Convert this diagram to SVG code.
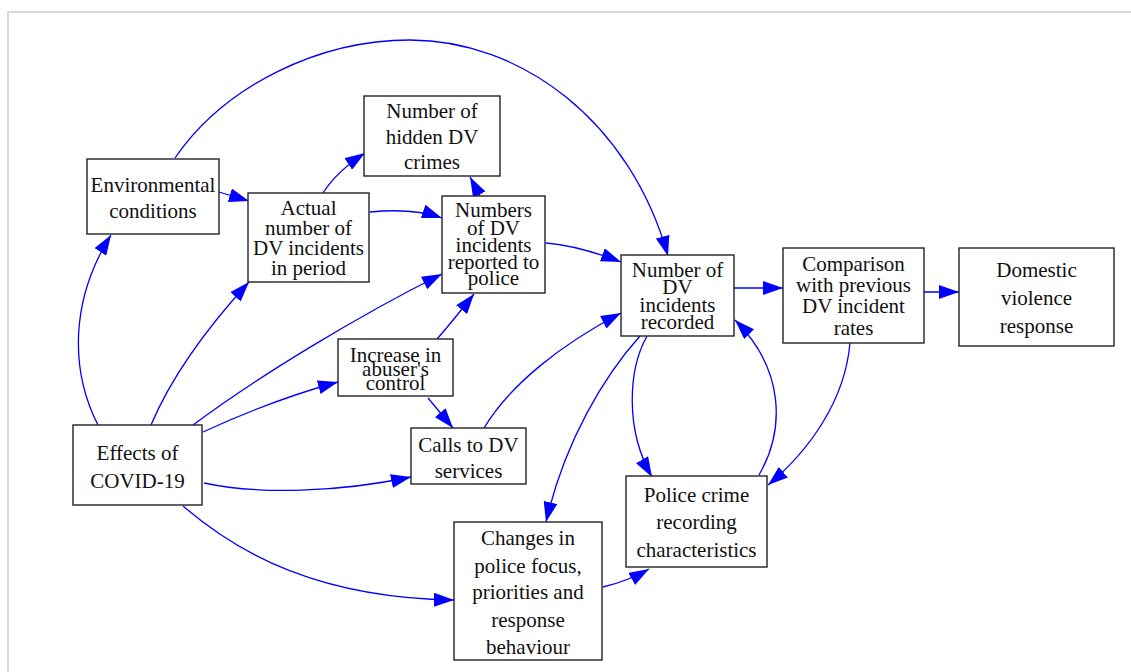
<svg xmlns="http://www.w3.org/2000/svg" width="1131" height="672" viewBox="0 0 1131 672">
<style>
.box{fill:#fff;stroke:#222;stroke-width:1.4}
.t{font-family:"Liberation Serif","DejaVu Serif",serif;font-size:21px;fill:#111;text-anchor:middle}
.e{fill:none;stroke:#0000ff;stroke-width:1.3;marker-end:url(#ah)}
</style>
<defs>
<marker id="ah" markerUnits="userSpaceOnUse" markerWidth="20" markerHeight="14" refX="20" refY="7" orient="auto" viewBox="0 0 20 14">
<path d="M0,0 L20,7 L0,14 z" fill="#0000ff"/>
</marker>
</defs>
<rect width="1131" height="672" fill="#fff"/>
<path d="M8,672 V12 H1131" fill="none" stroke="#d9d9d9" stroke-width="2"/>
<g id="connectors">
<path class="e" d="M175,158 C225,85 320,40 410,40 C520,40 630,120 668,256"/>
<path class="e" d="M219,192 L249,201"/>
<path class="e" d="M323,193 C330,182 342,168 365,153"/>
<path class="e" d="M370,212 C400,209 425,212 442,218"/>
<path class="e" d="M480,196 L470,177"/>
<path class="e" d="M546,243 C570,245 595,252 621,262"/>
<path class="e" d="M98,425 C70,370 70,300 111,235"/>
<path class="e" d="M151,425 C170,380 205,330 249,282"/>
<path class="e" d="M193,425 C260,375 360,315 442,274"/>
<path class="e" d="M203,432 C240,415 290,395 338,382"/>
<path class="e" d="M204,483 C260,495 340,492 411,477"/>
<path class="e" d="M183,506 C240,555 320,598 454,600"/>
<path class="e" d="M437,339 C445,330 455,318 474,294"/>
<path class="e" d="M428,398 L453,428"/>
<path class="e" d="M484,428 C510,385 560,345 621,313"/>
<path class="e" d="M640,336 C605,375 565,440 546,522"/>
<path class="e" d="M647,336 C628,370 625,430 652,477"/>
<path class="e" d="M759,475 C785,430 785,370 735,320"/>
<path class="e" d="M734,288 L783,288"/>
<path class="e" d="M924,292 L959,292"/>
<path class="e" d="M850,343 C845,400 810,450 768,485"/>
<path class="e" d="M603,587 C620,583 635,577 649,569"/>
</g>
<g id="env"><rect class="box" x="87" y="159" width="132" height="75"/>
<text class="t" x="153" y="192">Environmental</text><text class="t" x="153" y="218">conditions</text></g>
<g id="actual"><rect class="box" x="248" y="193" width="121" height="89"/>
<text class="t" x="308.5" y="215">Actual</text><text class="t" x="308.5" y="235">number of</text><text class="t" x="308.5" y="255">DV incidents</text><text class="t" x="308.5" y="275">in period</text></g>
<g id="hidden"><rect class="box" x="364" y="96" width="136" height="80"/>
<text class="t" x="432" y="118">Number of</text><text class="t" x="432" y="144">hidden DV</text><text class="t" x="432" y="169">crimes</text></g>
<g id="reported"><rect class="box" x="442" y="196" width="103" height="97"/>
<text class="t" x="493.5" y="217">Numbers</text><text class="t" x="493.5" y="235">of DV</text><text class="t" x="493.5" y="252">incidents</text><text class="t" x="493.5" y="269">reported to</text><text class="t" x="493.5" y="285">police</text></g>
<g id="recorded"><rect class="box" x="621" y="255" width="113" height="81"/>
<text class="t" x="677.5" y="277">Number of</text><text class="t" x="677.5" y="294">DV</text><text class="t" x="677.5" y="312">incidents</text><text class="t" x="677.5" y="329">recorded</text></g>
<g id="comparison"><rect class="box" x="783" y="248" width="141" height="95"/>
<text class="t" x="853.5" y="271">Comparison</text><text class="t" x="853.5" y="292">with previous</text><text class="t" x="853.5" y="313">DV incident</text><text class="t" x="853.5" y="335">rates</text></g>
<g id="response"><rect class="box" x="959" y="248" width="155" height="98"/>
<text class="t" x="1036.5" y="277">Domestic</text><text class="t" x="1036.5" y="305">violence</text><text class="t" x="1036.5" y="333">response</text></g>
<g id="covid"><rect class="box" x="73" y="425" width="129" height="80"/>
<text class="t" x="137.5" y="460">Effects of</text><text class="t" x="137.5" y="488">COVID-19</text></g>
<g id="increase"><rect class="box" x="338" y="339" width="115" height="57"/>
<text class="t" x="395.5" y="362">Increase in</text><text class="t" x="395.5" y="376">abuser's</text><text class="t" x="395.5" y="390">control</text></g>
<g id="calls"><rect class="box" x="411" y="428" width="115" height="56"/>
<text class="t" x="468.5" y="452">Calls to DV</text><text class="t" x="468.5" y="478">services</text></g>
<g id="changes"><rect class="box" x="454" y="522" width="148" height="138"/>
<text class="t" x="528" y="545">Changes in</text><text class="t" x="528" y="573">police focus,</text><text class="t" x="528" y="599">priorities and</text><text class="t" x="528" y="627">response</text><text class="t" x="528" y="654">behaviour</text></g>
<g id="policerec"><rect class="box" x="626" y="476" width="141" height="91"/>
<text class="t" x="696.5" y="502">Police crime</text><text class="t" x="696.5" y="529">recording</text><text class="t" x="696.5" y="557">characteristics</text></g>
</svg>
